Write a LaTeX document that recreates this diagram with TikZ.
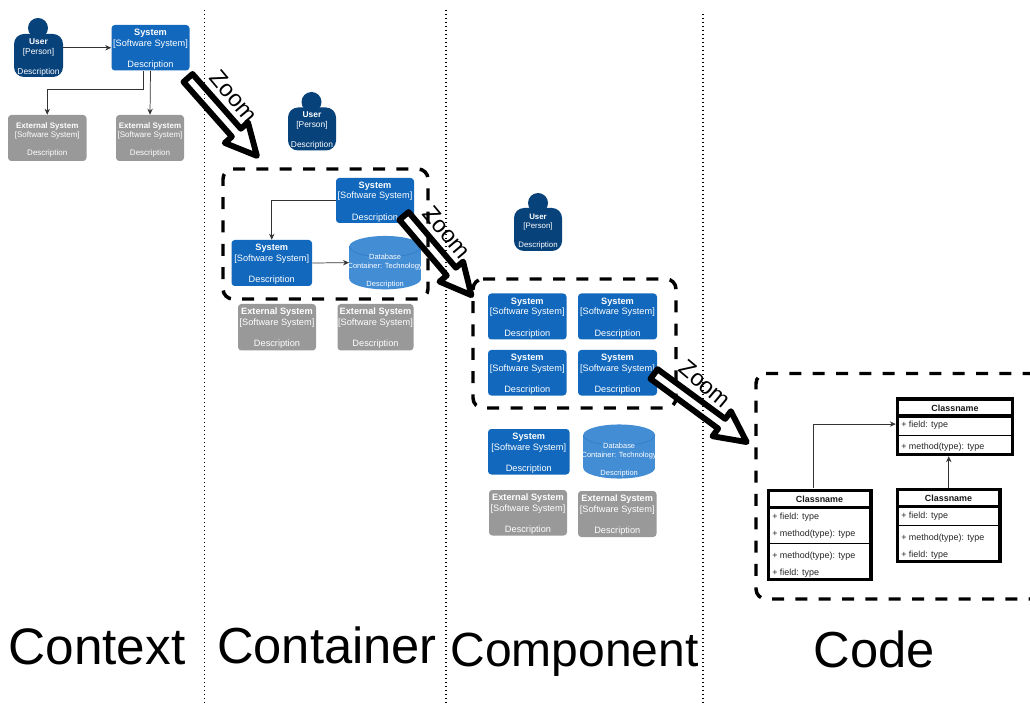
\documentclass[tikz,border=0pt]{standalone}
\usepackage{fontspec}
\setmainfont{Liberation Sans}
\usetikzlibrary{arrows.meta,calc}
\definecolor{persC}{HTML}{08427B}
\definecolor{sysC}{HTML}{1168BD}
\definecolor{extC}{HTML}{999999}
\definecolor{dbC}{HTML}{438DD5}
\definecolor{lineC}{HTML}{333333}
\tikzset{
  boxbase/.style={rectangle,rounded corners=2.5pt,inner sep=0pt,align=center,text=white,draw=none},
  sysbox/.style={boxbase,fill=sysC,font=\fontsize{6.9}{8}\selectfont},
  extbox/.style={boxbase,fill=extC,font=\fontsize{6.9}{8}\selectfont},
  extsmall/.style={boxbase,fill=extC,font=\fontsize{6}{6.9}\selectfont},
  persbody/.style={boxbase,fill=persC,rounded corners=7.5pt,font=\fontsize{6.3}{7.5}\selectfont},
  perssmall/.style={boxbase,fill=persC,rounded corners=7.5pt,font=\fontsize{5.9}{7}\selectfont},
  dbshape/.style={rectangle,inner sep=0pt,draw=none},
  dbtext/.style={inner sep=0pt,align=center,text=white,font=\fontsize{5.6}{6.6}\selectfont},
  dbseam/.style={draw=sysC!55!dbC,line width=0.35pt},
  headdot/.style={circle,inner sep=0pt,minimum size=15pt,fill=persC},
  conn/.style={draw=lineC,line width=0.55pt,-{Stealth[length=4.5pt,width=4pt]}},
  zoomshape/.style={draw=black,fill=white,line width=4.4pt,line join=round},
  zoomtext/.style={font=\fontsize{17.5}{18}\selectfont,inner sep=0pt,text=black},
  frame/.style={draw=black,line width=2.6pt,dash pattern=on 9pt off 8.5pt,rounded corners=7.5pt},
  sepline/.style={draw=black,line width=0.9pt,dash pattern=on 0.9pt off 2.1pt},
  biglabel/.style={font=\fontsize{38.5}{40}\selectfont,inner sep=0pt,anchor=base,text=black},
  classbox/.style={rectangle,draw=black,fill=white,line width=2.5pt,inner sep=0pt},
  classname/.style={font=\fontsize{6.7}{8}\selectfont\bfseries,inner sep=0pt,text=black!90},
  classrow/.style={font=\fontsize{6.7}{8}\selectfont,inner sep=0pt,anchor=west,text=black!85},
  classthick/.style={draw=black,line width=2.5pt},
  classthin/.style={draw=black,line width=0.5pt}
}
\newcommand{\bx}[7]{%
  \pgfmathsetmacro{\bw}{(#5-#3)*0.75}\pgfmathsetmacro{\bh}{(#6-#4)*0.75}%
  \node[#1,minimum width=\bw pt,minimum height=\bh pt] (#2) at ({(#3+#5)/2},{(#4+#6)/2}) {#7};}
\newcommand{\sysT}[1]{\rule{0pt}{7pt}\textbf{#1}\\{[Software System]}\\\mbox{}\\Description}
\newcommand{\persT}{\rule{0pt}{7pt}\textbf{User}\\{[Person]}\\\mbox{}\\Description}
\newcommand{\dbn}[5]{% name, x1, y1, x2, y2
  \pgfmathsetmacro{\rxx}{(#4-#2)*0.375}
  \fill[dbC] (#2,#3+10.5) rectangle (#4,#5-10.5);
  \fill[dbC] ({(#2+#4)/2},#3+10.5) ellipse [x radius=\rxx pt,y radius=7.9pt];
  \fill[dbC] ({(#2+#4)/2},#5-10.5) ellipse [x radius=\rxx pt,y radius=7.9pt];
  \draw[dbseam] (#2,#3+10.5) arc [start angle=180,end angle=360,x radius=\rxx pt,y radius=7.9pt];
  \pgfmathsetmacro{\bw}{(#4-#2)*0.75}\pgfmathsetmacro{\bh}{(#5-#3)*0.75}%
  \node[dbshape,minimum width=\bw pt,minimum height=\bh pt] (#1) at ({(#2+#4)/2},{(#3+#5)/2}) {};
  \node[dbtext] (#1t) at ({(#2+#4)/2},{(#3+#5)/2+8.5}) {Database\\Container: Technology\\\mbox{}\\Description};}
\newcommand{\zoomarrow}[4]{%
  \begin{scope}[shift={(#1,#2)},rotate=#3]
    \draw[zoomshape] (0,-6) -- ({#4-31},-6) -- ({#4-31},-15.5) -- (#4,0) -- ({#4-31},15.5) -- ({#4-31},6) -- (0,6) -- cycle;
  \end{scope}}
\begin{document}
\begin{tikzpicture}[x=0.75pt,y=-0.75pt]
\path[use as bounding box,clip] (0,0) rectangle (1030,705);
\fill[white] (0,0) rectangle (1030,705);

% Context
\node[headdot] (h1) at (38,28) {};
\bx{persbody}{u1}{14}{34}{63}{77}{\persT}
\bx{sysbox}{s1}{111.5}{25}{189.5}{70.5}{\sysT{System}}
\bx{extsmall}{e1}{8}{115}{86.5}{161}{\sysT{External System}}
\bx{extsmall}{e2}{116}{115}{184}{161}{\sysT{External System}}
\draw[conn] (u1.east |- s1.west) -- (s1.west);
\draw[conn] (s1.south) -- (e2.north);
\draw[conn] ([xshift=-5pt]s1.south) -- ++(0,19) -| (e1.north);

% Container
\node[headdot] (h2) at (311.5,102) {};
\bx{persbody}{u2}{288}{107.5}{336}{150.5}{\persT}
\bx{sysbox}{s2}{336}{178}{414}{223}{\sysT{System}}
\bx{sysbox}{s3}{231.5}{240}{312}{286}{\sysT{System}}
\dbn{d1}{349.3}{236}{421}{289.3}
\bx{extbox}{e3}{238}{304}{316}{350.5}{\sysT{External System}}
\bx{extbox}{e4}{337.5}{304}{413.5}{350.5}{\sysT{External System}}
\draw[conn] (s2.west) -| (s3.north);
\draw[conn] (s3.east) -- (d1.west);

% Component
\node[headdot] (h3) at (538,203) {};
\bx{perssmall}{u3}{514}{208}{562}{251}{\persT}
\bx{sysbox}{c1}{488}{293.5}{566.5}{339.5}{\sysT{System}}
\bx{sysbox}{c2}{578}{293.5}{657}{339.5}{\sysT{System}}
\bx{sysbox}{c3}{488}{350}{566.5}{395.5}{\sysT{System}}
\bx{sysbox}{c4}{578}{350}{657}{395.5}{\sysT{System}}
\bx{sysbox}{c5}{488}{429}{569.5}{474.5}{\sysT{System}}
\dbn{d2}{583.3}{424.5}{655}{478.5}
\bx{extbox}{e5}{489}{490}{567}{535.5}{\sysT{External System}}
\bx{extbox}{e6}{578}{491}{656.5}{537}{\sysT{External System}}

% Code
\bx{classbox}{ca}{897.5}{399}{1012.5}{454.5}{}
\bx{classbox}{cb}{897.5}{489.5}{1000}{561.5}{}
\bx{classbox}{cc}{768.5}{490.5}{871}{579.5}{}
\draw[classthick] (ca.west |- 0,416) -- (ca.east |- 0,416);
\draw[classthin] (ca.west |- 0,435) -- (ca.east |- 0,435);
\draw[classthick] (cb.west |- 0,506.7) -- (cb.east |- 0,506.7);
\draw[classthin] (cb.west |- 0,525) -- (cb.east |- 0,525);
\draw[classthick] (cc.west |- 0,507.7) -- (cc.east |- 0,507.7);
\draw[classthin] (cc.west |- 0,543.7) -- (cc.east |- 0,543.7);
\node[classname] (ta) at (955,408.5) {Classname};
\node[classname] (tb) at (948.5,498.5) {Classname};
\node[classname] (tc) at (819.5,499.5) {Classname};
\node[classrow] (a1) at (901,425.5) {+ field: type};
\node[classrow] (a2) at (901,447.5) {+ method(type): type};
\node[classrow] (b1) at (901,516) {+ field: type};
\node[classrow] (b2) at (901,538) {+ method(type): type};
\node[classrow] (b3) at (901,555) {+ field: type};
\node[classrow] (c1r) at (772,517) {+ field: type};
\node[classrow] (c2r) at (772,534) {+ method(type): type};
\node[classrow] (c3r) at (772,556) {+ method(type): type};
\node[classrow] (c4r) at (772,573) {+ field: type};
\draw[conn] ([xshift=-4.6pt,yshift=1pt]cc.north) |- ([yshift=2pt]ca.west);
\draw[conn] (cb.north) -- (cb.north |- ca.south);

% Zoom arrows (under the frames and separators)
\zoomarrow{188}{78}{-48.5}{104}
\zoomarrow{404}{216}{-49.6}{104}
\zoomarrow{654}{374}{-36.3}{115}

% Separators
\draw[sepline] (204.5,10) -- (204.5,705);
\draw[sepline] (446,10) -- (446,705);
\draw[sepline] (703,14) -- (703,705);

% Frames
\draw[frame] (233,169) -- (428,169) -- (428,299) -- (223,299) -- (223,169) -- (233,169);
\draw[frame] (483,279) -- (676,279) -- (676,408) -- (473,408) -- (473,279) -- (483,279);
\draw[frame] (766,373.5) -- (1040,373.5) -- (1040,599) -- (756,599) -- (756,373.5) -- (766,373.5);

% Zoom labels
\node[zoomtext,rotate=-50] (z1) at (234,96) {Zoom};
\node[zoomtext,rotate=-50] (z2) at (447,232) {Zoom};
\node[zoomtext,rotate=-40] (z3) at (705,384) {Zoom};

% Level labels
\node[biglabel] (l1) at (97,664) {Context};
\node[biglabel,font=\fontsize{38}{40}\selectfont] (l2) at (327,663) {Container};
\node[biglabel,font=\fontsize{36}{40}\selectfont] (l3) at (574.5,666) {Component};
\node[biglabel,font=\fontsize{38}{40}\selectfont] (l4) at (874.5,667) {Code};
\end{tikzpicture}
\end{document}
